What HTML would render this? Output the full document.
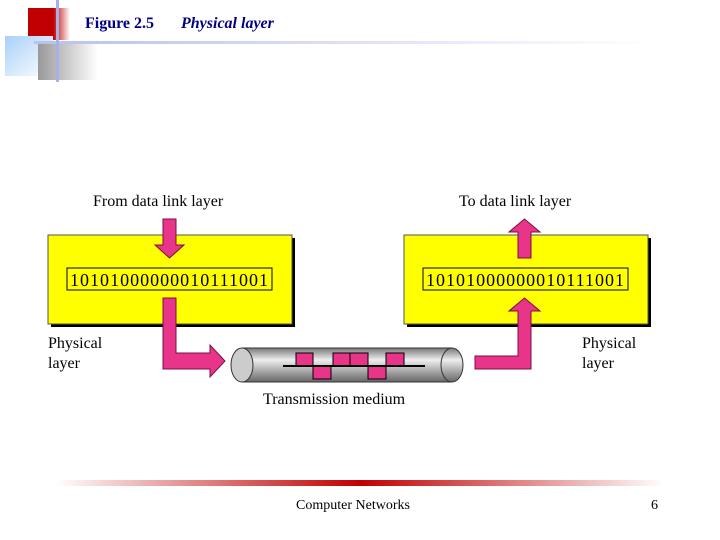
<!DOCTYPE html>
<html><head><meta charset="utf-8"><style>
body{margin:0;width:720px;height:540px;background:#fff;overflow:hidden;position:relative;font-family:"Liberation Serif",serif}
</style></head><body>
<svg width="720" height="540" style="position:absolute;left:0;top:0">
<defs>
<linearGradient id="red" x1="0" x2="1"><stop offset="0" stop-color="#c00000"/><stop offset="0.6" stop-color="#c00000"/><stop offset="1" stop-color="#fff"/></linearGradient>
<linearGradient id="blue" x1="0" y1="0" x2="1" y2="1"><stop offset="0" stop-color="#a8d0f8"/><stop offset="1" stop-color="#fff"/></linearGradient>
<linearGradient id="gray" x1="0" x2="1"><stop offset="0" stop-color="#999"/><stop offset="1" stop-color="#fff"/></linearGradient>
<linearGradient id="bar" x1="0" x2="1"><stop offset="0" stop-color="#fff"/><stop offset="0.5" stop-color="#c00000"/><stop offset="1" stop-color="#fff"/></linearGradient>
<linearGradient id="pipe" x1="0" y1="0" x2="0" y2="1"><stop offset="0" stop-color="#777"/><stop offset="0.35" stop-color="#eee"/><stop offset="1" stop-color="#666"/></linearGradient>
<linearGradient id="hl" x1="0" x2="1"><stop offset="0" stop-color="#b8c0f0"/><stop offset="1" stop-color="#fff"/></linearGradient>
</defs>
<rect x="28" y="8" width="42" height="32" fill="url(#red)"/>
<rect x="5" y="36" width="48" height="40" fill="url(#blue)"/>
<rect x="38" y="44" width="60" height="36" fill="url(#gray)"/>
<rect x="34" y="41" width="620" height="3" fill="url(#hl)"/>
<rect x="56" y="0" width="3" height="82" fill="#a8b0e8"/>
<text x="85" y="28" font-size="16" font-weight="bold" fill="#000080">Figure 2.5</text>
<text x="181" y="28" font-size="16" font-weight="bold" font-style="italic" fill="#000080">Physical layer</text>

<rect x="51" y="238" width="244" height="89" fill="#000"/>
<rect x="48" y="235" width="244" height="89" fill="#ffff00" stroke="#555"/>
<rect x="67" y="268" width="205" height="22" fill="none" stroke="#000"/>
<text x="70" y="286" font-size="18" font-family="Liberation Serif" textLength="198">10101000000010111001</text>
<rect x="407" y="238" width="244" height="89" fill="#000"/>
<rect x="404" y="235" width="244" height="89" fill="#ffff00" stroke="#555"/>
<rect x="423" y="268" width="205" height="22" fill="none" stroke="#000"/>
<text x="426" y="286" font-size="18" textLength="198">10101000000010111001</text>

<g fill="#e8358a" stroke="#7a1040" stroke-width="1">
<polygon points="163,219 176,219 176,245 184,245 169.5,258 155,245 163,245"/>
<polygon points="163,298 176,298 176,353 210,353 210,345 225,361 210,377 210,369 163,369"/>
<polygon points="518,258 531,258 531,232 540,232 524.5,219 509,232 518,232"/>
<polygon points="475,356 518,356 518,311 509,311 524.5,298 540,311 531,311 531,369 475,369"/>
</g>

<rect x="242" y="348" width="210" height="34" fill="url(#pipe)"/>
<ellipse cx="452" cy="365" rx="11" ry="17" fill="url(#pipe)" stroke="#333"/>
<line x1="242" y1="348" x2="452" y2="348" stroke="#333"/>
<line x1="242" y1="382" x2="452" y2="382" stroke="#333"/>
<ellipse cx="242" cy="365" rx="11" ry="17" fill="#ccc" stroke="#333"/>
<g fill="#e8358a" stroke="#000" stroke-width="1">
<rect x="296" y="353" width="17" height="13"/><rect x="313" y="366" width="18" height="13"/>
<rect x="333" y="353" width="17" height="13"/><rect x="350" y="353" width="18" height="13"/>
<rect x="368" y="366" width="18" height="13"/><rect x="386" y="353" width="18" height="13"/>
</g>
<line x1="283" y1="366" x2="425" y2="366" stroke="#000" stroke-width="2"/>

<g font-size="16" fill="#000">
<text x="93" y="206">From data link layer</text>
<text x="459" y="206">To data link layer</text>
<text x="48" y="348">Physical</text><text x="48" y="368">layer</text>
<text x="582" y="348">Physical</text><text x="582" y="368">layer</text>
<text x="263" y="404">Transmission medium</text>
</g>
<rect x="55" y="480" width="610" height="6" fill="url(#bar)"/>
<text x="296" y="509" font-size="14">Computer Networks</text>
<text x="651" y="509" font-size="14">6</text>
</svg>
</body></html>
